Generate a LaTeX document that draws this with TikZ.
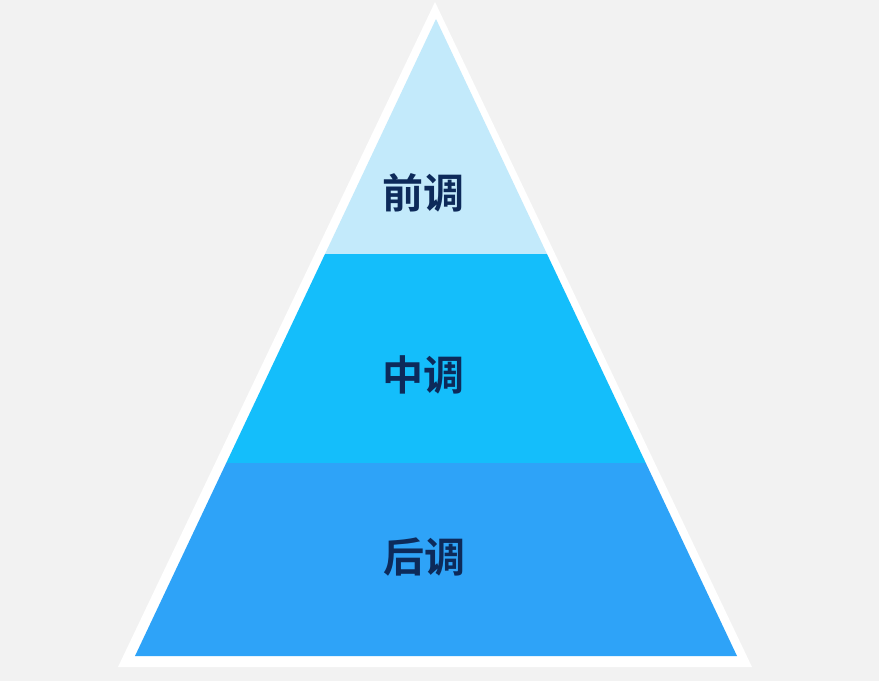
\documentclass[tikz,border=0pt]{standalone}
\usepackage{fontspec}
\newfontfamily\cjk{Noto Sans CJK SC Bold}
\definecolor{bgc}{HTML}{F2F2F2}
\definecolor{topc}{HTML}{C3EAFB}
\definecolor{midc}{HTML}{14BEFB}
\definecolor{botc}{HTML}{2EA3F8}
\definecolor{txtc}{HTML}{0D2A5A}
\begin{document}
\begin{tikzpicture}[x=1pt,y=-1pt,
  lbl/.style={font=\cjk\fontsize{41}{41}\selectfont, text=txtc, inner sep=0pt}]
\fill[bgc] (0,0) rectangle (879,681);
\useasboundingbox (0,0) rectangle (879,681);
% outer white border
\fill[white] (435,2) -- (752,667) -- (118,667) -- cycle;
% bands of the inner triangle: apex (436,19), base (135,656)-(737,656)
\fill[topc] (436,19) -- (547,254) -- (325,254) -- cycle;
\fill[midc] (325,254) -- (547,254) -- (645.8,463) -- (226.2,463) -- cycle;
\fill[botc] (226.2,463) -- (645.8,463) -- (737,656) -- (135,656) -- cycle;
\node[lbl] (t1) at (423,193) {前调};
\node[lbl] (t2) at (423,375) {中调};
\node[lbl] (t3) at (424,557) {后调};
\end{tikzpicture}
\end{document}
